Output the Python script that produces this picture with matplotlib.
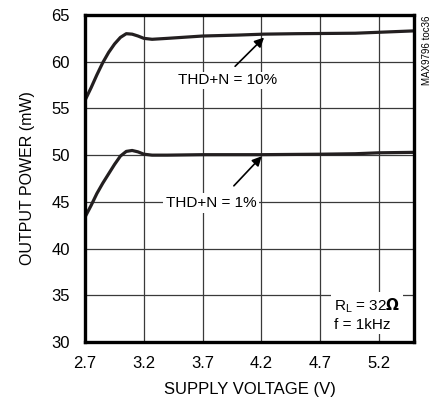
import matplotlib
matplotlib.use("Agg")
import matplotlib.pyplot as plt

plt.rcParams['font.family'] = ['Liberation Sans Narrow', 'Liberation Sans', 'DejaVu Sans']

# supply voltage (V) vs output power (mW)
v_10 = [2.70, 2.75, 2.80, 2.85, 2.90, 2.95, 3.00, 3.05, 3.10, 3.15, 3.20, 3.27, 3.40, 3.70, 4.00, 4.22, 4.50, 5.00, 5.20, 5.50]
p_10 = [55.9, 57.2, 58.6, 59.9, 61.0, 61.9, 62.6, 63.0, 62.95, 62.75, 62.5, 62.4, 62.5, 62.75, 62.85, 62.95, 63.0, 63.05, 63.15, 63.3]

v_1 = [2.70, 2.75, 2.80, 2.85, 2.90, 2.95, 3.00, 3.05, 3.10, 3.15, 3.20, 3.27, 3.40, 3.70, 4.20, 4.70, 5.00, 5.20, 5.50]
p_1 = [43.4, 44.6, 45.9, 47.0, 48.0, 49.0, 49.9, 50.4, 50.5, 50.35, 50.1, 50.0, 50.0, 50.05, 50.05, 50.1, 50.15, 50.25, 50.3]

xticks = [2.7, 3.2, 3.7, 4.2, 4.7, 5.2]
yticks = [30, 35, 40, 45, 50, 55, 60, 65]

fig = plt.figure(figsize=(4.39, 4.0), dpi=100)
ax = fig.add_axes([0.194, 0.145, 0.749, 0.8175])

ax.plot(v_10, p_10, color='#231f20', lw=2.3, solid_capstyle='butt')
ax.plot(v_1, p_1, color='#231f20', lw=2.3, solid_capstyle='butt')

ax.set_xlim(2.7, 5.5)
ax.set_ylim(30, 65)
ax.set_xticks(xticks)
ax.set_xticklabels([str(t) for t in xticks])
ax.set_yticks(yticks)
ax.grid(True, color='#3a3a3a', lw=0.9)
ax.tick_params(axis='x', length=0, labelsize=12, pad=10)
ax.tick_params(axis='y', length=0, labelsize=12, pad=11)
for s in ax.spines.values():
    s.set_linewidth(2.4)
    s.set_color('black')

ax.set_xlabel('SUPPLY VOLTAGE (V)', fontsize=12, labelpad=8)
ax.set_ylabel('OUTPUT POWER (mW)', fontsize=11.5, labelpad=12)

ap = dict(arrowstyle='-|>', color='black', lw=1.2, mutation_scale=14)
ax.annotate('', xy=(4.24, 62.8), xytext=(3.96, 59.3), arrowprops=ap)
ax.text(3.91, 58.0, 'THD+N = 10%', fontsize=11, ha='center', va='center',
        bbox=dict(fc='white', ec='none', pad=1))
ax.annotate('', xy=(4.22, 50.1), xytext=(3.95, 46.5), arrowprops=ap)
ax.text(3.77, 44.9, 'THD+N = 1%', fontsize=11, ha='center', va='center',
        bbox=dict(fc='white', ec='none', pad=2))

ax.text(4.82, 33.0, 'R$_\\mathregular{L}$ = 32$\\mathbf{\\Omega}$\nf = 1kHz', fontsize=11,
        ha='left', va='center', linespacing=1.25,
        bbox=dict(fc='white', ec='none', pad=2))

fig.text(0.972, 0.962, 'MAX9796 toc36', rotation=90, fontsize=7, ha='center', va='top')

fig.savefig('out.png', dpi=100)
